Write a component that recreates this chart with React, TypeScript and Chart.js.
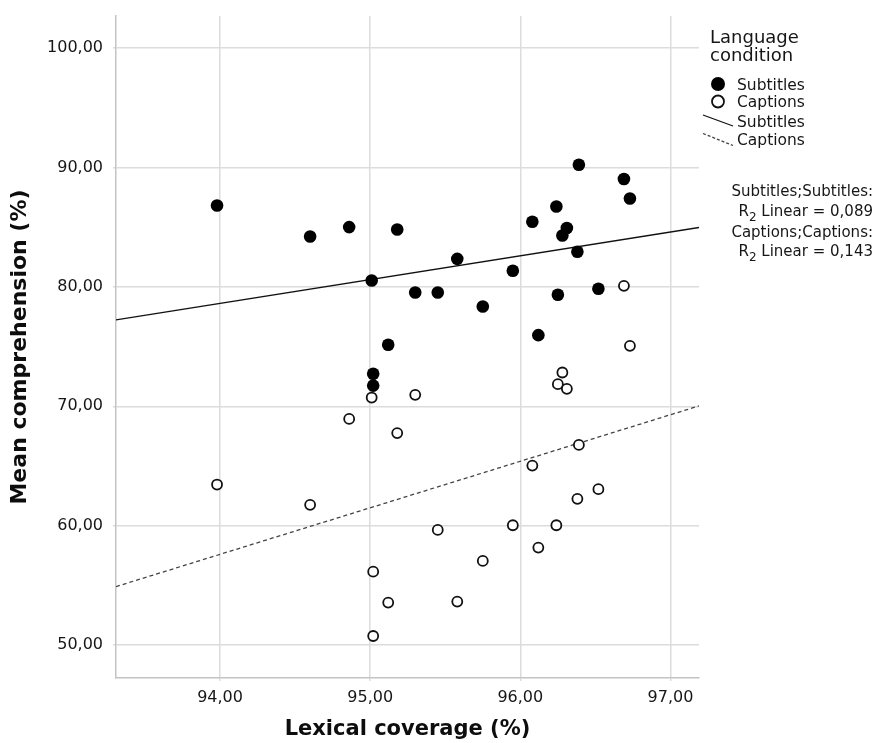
import React, { useEffect, useRef } from "react";
import { Chart, registerables } from "chart.js";

Chart.register(...registerables);

// ---- Data ----
const lexicalCoverage = [
  93.98, 94.6, 94.86, 95.18, 95.01, 95.12, 95.02, 95.02, 95.58, 95.3, 95.45, 95.75,
  95.95, 96.08, 96.12, 96.24, 96.25, 96.28, 96.31, 96.38, 96.39, 96.52, 96.69, 96.73,
];
const subtitlesComprehension = [
  86.82, 84.23, 85.01, 84.81, 80.54, 75.15, 72.72, 71.73, 82.35, 79.53, 79.53, 78.36,
  81.35, 85.46, 75.96, 86.74, 79.34, 84.31, 84.93, 82.94, 90.23, 79.84, 89.04, 87.41,
];
const captionsComprehension = [
  63.44, 61.74, 68.94, 67.75, 70.73, 53.55, 56.14, 50.75, 53.63, 70.96, 59.64, 57.04,
  60.03, 65.03, 58.16, 60.03, 71.85, 72.83, 71.46, 62.24, 66.76, 63.05, 80.09, 75.06,
];
// Fit-line end points
const fitLineX = [93.307, 97.19];
const subtitlesFitY = [77.24, 84.98];
const captionsFitY = [54.89, 70.03];

const xTickValues = [94, 95, 96, 97];
const yTickValues = [50, 60, 70, 80, 90, 100];
const xRange = [93.307, 97.19];
const yRange = [47.23, 102.7];

const legendTitle = ["Language", "condition"];
const legendLabels = ["Subtitles", "Captions", "Subtitles", "Captions"];
const r2Labels = ["Subtitles;Subtitles:", "0,089", "Captions;Captions:", "0,143"];

const FONT = "'DejaVu Sans', Verdana, sans-serif";
const TEXT = "#161616";
const fmt = (v: number) => v.toFixed(2).replace(".", ",");

const toPoints = (xs: number[], ys: number[]) => xs.map((x, i) => ({ x, y: ys[i] }));

const legendPlugin = {
  id: "spssLegend",
  afterDraw(chart: any) {
    const ctx = chart.ctx as CanvasRenderingContext2D;
    ctx.save();
    ctx.fillStyle = TEXT;
    ctx.textBaseline = "alphabetic";
    ctx.textAlign = "left";
    // Title
    ctx.font = `18px ${FONT}`;
    ctx.fillText(legendTitle[0], 710, 42.7);
    ctx.fillText(legendTitle[1], 710, 60.7);

    // Items
    ctx.font = `15.5px ${FONT}`;
    // filled circle
    ctx.beginPath();
    ctx.arc(718, 84, 7, 0, Math.PI * 2);
    ctx.fillStyle = "#000";
    ctx.fill();
    ctx.fillStyle = TEXT;
    ctx.fillText(legendLabels[0], 737, 90);
    // open circle
    ctx.beginPath();
    ctx.arc(718, 101.5, 6, 0, Math.PI * 2);
    ctx.fillStyle = "#fff";
    ctx.fill();
    ctx.lineWidth = 1.8;
    ctx.strokeStyle = "#111";
    ctx.stroke();
    ctx.fillStyle = TEXT;
    ctx.fillText(legendLabels[1], 737, 107.3);
    // solid line
    ctx.beginPath();
    ctx.moveTo(703, 115);
    ctx.lineTo(733, 126);
    ctx.lineWidth = 1.3;
    ctx.strokeStyle = "#111";
    ctx.stroke();
    ctx.fillText(legendLabels[2], 737, 127.3);
    // dashed line
    ctx.beginPath();
    ctx.setLineDash([3, 2]);
    ctx.moveTo(703, 133.5);
    ctx.lineTo(733, 145.5);
    ctx.strokeStyle = "#444";
    ctx.stroke();
    ctx.setLineDash([]);
    ctx.fillText(legendLabels[3], 737, 145);

    // R2 annotations (right aligned)
    const right = 873;
    ctx.font = `15px ${FONT}`;
    ctx.textAlign = "right";
    ctx.fillText(r2Labels[0], right, 196);
    ctx.fillText(r2Labels[2], right, 236.5);
    const drawR2 = (val: string, baseY: number) => {
      ctx.textAlign = "left";
      ctx.font = `15px ${FONT}`;
      const tail = ` Linear = ${val}`;
      const wTail = ctx.measureText(tail).width;
      const wR = ctx.measureText("R").width;
      ctx.font = `12px ${FONT}`;
      const w2 = ctx.measureText("2").width;
      const start = right - wTail - w2 - wR;
      ctx.font = `15px ${FONT}`;
      ctx.fillText("R", start, baseY);
      ctx.font = `12px ${FONT}`;
      ctx.fillText("2", start + wR, baseY + 5);
      ctx.font = `15px ${FONT}`;
      ctx.fillText(tail, start + wR + w2, baseY);
    };
    drawR2(r2Labels[1], 216);
    drawR2(r2Labels[3], 256);
    ctx.restore();
  },
};

export default function App() {
  const canvasRef = useRef<HTMLCanvasElement | null>(null);

  useEffect(() => {
    document.body.style.margin = "0";
    const canvas = canvasRef.current;
    if (!canvas) return;
    const chart = new Chart(canvas, {
      type: "scatter",
      data: {
        datasets: [
          {
            label: "Subtitles",
            data: toPoints(lexicalCoverage, subtitlesComprehension),
            backgroundColor: "#000",
            borderColor: "#000",
            borderWidth: 0,
            pointRadius: 6.3,
            pointHoverRadius: 6.3,
          },
          {
            label: "Captions",
            data: toPoints(lexicalCoverage, captionsComprehension),
            backgroundColor: "#fff",
            borderColor: "#111",
            borderWidth: 1.8,
            pointRadius: 5,
            pointHoverRadius: 5,
          },
          {
            type: "line",
            label: "Subtitles fit",
            data: toPoints(fitLineX, subtitlesFitY),
            borderColor: "#111",
            borderWidth: 1.3,
            pointRadius: 0,
            fill: false,
            tension: 0,
          } as any,
          {
            type: "line",
            label: "Captions fit",
            data: toPoints(fitLineX, captionsFitY),
            borderColor: "#444",
            borderWidth: 1.3,
            borderDash: [4, 3],
            pointRadius: 0,
            fill: false,
            tension: 0,
          } as any,
        ],
      },
      options: {
        animation: false,
        responsive: false,
        maintainAspectRatio: false,
        layout: { padding: { top: 16, right: 180, left: 0, bottom: 0 } },
        plugins: { legend: { display: false }, tooltip: { enabled: false } },
        scales: {
          x: {
            type: "linear",
            min: xRange[0],
            max: xRange[1],
            afterBuildTicks: (s: any) => {
              s.ticks = xTickValues.map((v) => ({ value: v }));
            },
            afterFit: (s: any) => {
              s.height = 65;
              s.paddingLeft = 0;
              s.paddingRight = 0;
            },
            grid: { color: "#dcdcdc", lineWidth: 1.5, tickLength: 3, drawTicks: true },
            border: { color: "#c4c4c4", width: 1.5 },
            ticks: {
              font: { family: FONT, size: 16 },
              color: TEXT,
              padding: 7,
              maxRotation: 0,
              autoSkip: false,
              callback: (v: any) => fmt(Number(v)),
            },
            title: {
              display: true,
              text: "Lexical coverage (%)",
              font: { family: FONT, size: 21, weight: "bold" },
              color: "#0d0d0d",
              padding: { top: 0, bottom: 1 },
            },
          },
          y: {
            type: "linear",
            min: yRange[0],
            max: yRange[1],
            afterBuildTicks: (s: any) => {
              s.ticks = yTickValues.map((v) => ({ value: v }));
            },
            afterFit: (s: any) => {
              s.width = 116;
              s.paddingTop = 0;
              s.paddingBottom = 0;
            },
            grid: { color: "#dcdcdc", lineWidth: 1.5, tickLength: 3, drawTicks: true },
            border: { color: "#c4c4c4", width: 1.5 },
            ticks: {
              font: { family: FONT, size: 16 },
              color: TEXT,
              padding: 10,
              autoSkip: false,
              callback: (v: any) => fmt(Number(v)),
            },
            title: {
              display: true,
              text: "Mean comprehension (%)",
              font: { family: FONT, size: 22, weight: "bold" },
              color: "#0d0d0d",
              padding: { top: 7, bottom: 0 },
            },
          },
        },
      },
      plugins: [legendPlugin],
    });
    return () => chart.destroy();
  }, []);

  return (
    <div style={{ position: "absolute", left: 0, top: 0, width: 879, height: 743, background: "#fff" }}>
      <canvas ref={canvasRef} width={879} height={743} style={{ display: "block" }} />
    </div>
  );
}
